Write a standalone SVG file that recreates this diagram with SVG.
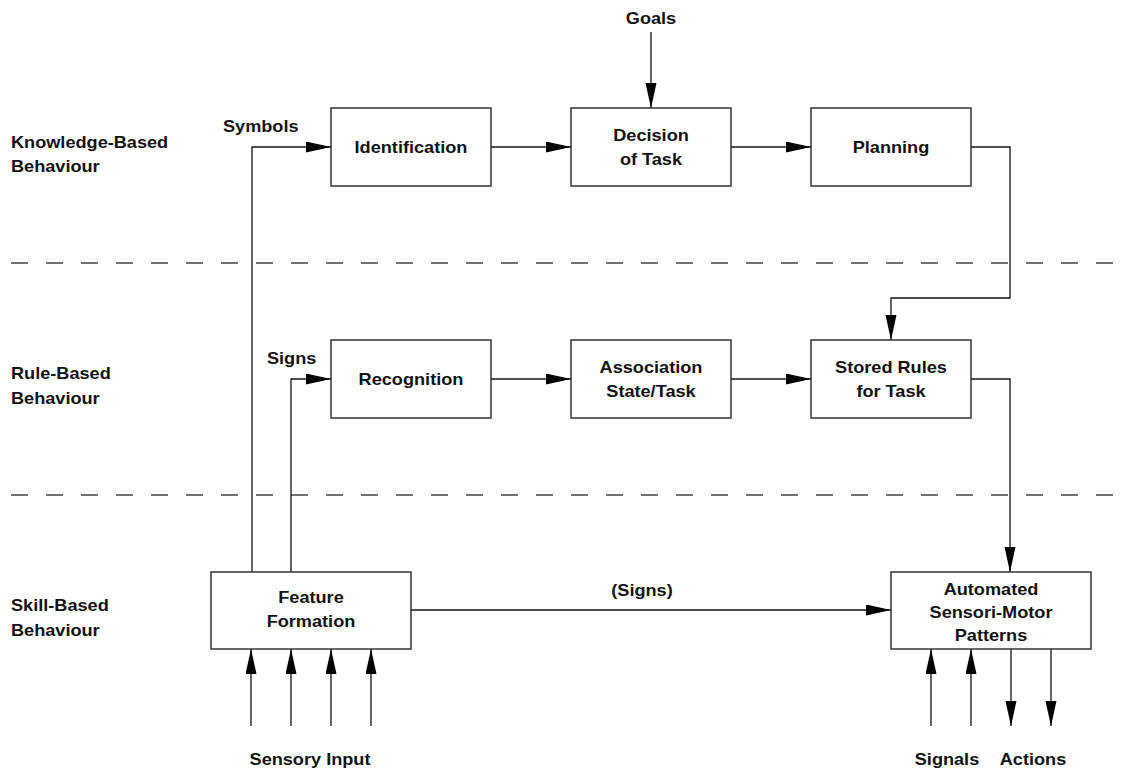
<svg xmlns="http://www.w3.org/2000/svg" width="1122" height="771" viewBox="0 0 1122 771">
<style>
text{font-family:"Liberation Sans",Arial,sans-serif;font-weight:bold;font-size:16.5px;fill:#111;transform-box:fill-box;transform-origin:center;transform:scaleX(1.1)}
.c{text-anchor:middle}
.l{transform-origin:left center}
.box{fill:#fff;stroke:#333;stroke-width:1.5}
.ln{fill:none;stroke:#111;stroke-width:1.3}
.dash{fill:none;stroke:#444;stroke-width:1.5;stroke-dasharray:17 18}
</style>
<defs>
<marker id="ah" markerUnits="userSpaceOnUse" markerWidth="26" markerHeight="12" refX="25" refY="5.5" orient="auto">
<path d="M0,0 L25,5.5 L0,11 z" fill="#000"/>
</marker>
</defs>
<g id="bands">
<line class="dash" x1="11" y1="263" x2="1122" y2="263"/>
<line class="dash" x1="11" y1="495" x2="1122" y2="495"/>
<text class="l" x="11" y="148">Knowledge-Based</text>
<text class="l" x="11" y="172">Behaviour</text>
<text class="l" x="11" y="379">Rule-Based</text>
<text class="l" x="11" y="404">Behaviour</text>
<text class="l" x="11" y="611">Skill-Based</text>
<text class="l" x="11" y="636">Behaviour</text>
</g>
<g id="connectors">
<path class="ln" d="M651,32 V108" marker-end="url(#ah)"/>
<path class="ln" d="M252,572 V147 H331" marker-end="url(#ah)"/>
<path class="ln" d="M491,147 H571" marker-end="url(#ah)"/>
<path class="ln" d="M731,147 H811" marker-end="url(#ah)"/>
<path class="ln" d="M971,147 H1010 V298 H891 V340" marker-end="url(#ah)"/>
<path class="ln" d="M291,572 V379 H331" marker-end="url(#ah)"/>
<path class="ln" d="M491,379 H571" marker-end="url(#ah)"/>
<path class="ln" d="M731,379 H811" marker-end="url(#ah)"/>
<path class="ln" d="M971,379 H1010 V572" marker-end="url(#ah)"/>
<path class="ln" d="M411,610 H891" marker-end="url(#ah)"/>
<path class="ln" d="M251,726 V649" marker-end="url(#ah)"/>
<path class="ln" d="M291,726 V649" marker-end="url(#ah)"/>
<path class="ln" d="M331,726 V649" marker-end="url(#ah)"/>
<path class="ln" d="M371,726 V649" marker-end="url(#ah)"/>
<path class="ln" d="M931,726 V649" marker-end="url(#ah)"/>
<path class="ln" d="M971,726 V649" marker-end="url(#ah)"/>
<path class="ln" d="M1011,649 V726" marker-end="url(#ah)"/>
<path class="ln" d="M1051,649 V726" marker-end="url(#ah)"/>
<text class="c" x="651" y="24">Goals</text>
<text class="l" x="223" y="132">Symbols</text>
<text class="l" x="267" y="364">Signs</text>
<text class="c" x="642" y="596">(Signs)</text>
<text class="c" x="310" y="765">Sensory Input</text>
<text class="c" x="947" y="765">Signals</text>
<text class="c" x="1033" y="765">Actions</text>
</g>
<g id="identification"><rect class="box" x="331" y="108" width="160" height="78"/><text class="c" x="411" y="153">Identification</text></g>
<g id="decision"><rect class="box" x="571" y="108" width="160" height="78"/><text class="c" x="651" y="141">Decision</text><text class="c" x="651" y="165">of Task</text></g>
<g id="planning"><rect class="box" x="811" y="108" width="160" height="78"/><text class="c" x="891" y="153">Planning</text></g>
<g id="recognition"><rect class="box" x="331" y="340" width="160" height="78"/><text class="c" x="411" y="385">Recognition</text></g>
<g id="association"><rect class="box" x="571" y="340" width="160" height="78"/><text class="c" x="651" y="373">Association</text><text class="c" x="651" y="397">State/Task</text></g>
<g id="storedrules"><rect class="box" x="811" y="340" width="160" height="78"/><text class="c" x="891" y="373">Stored Rules</text><text class="c" x="891" y="397">for Task</text></g>
<g id="feature"><rect class="box" x="211" y="572" width="200" height="77"/><text class="c" x="311" y="603">Feature</text><text class="c" x="311" y="627">Formation</text></g>
<g id="automated"><rect class="box" x="891" y="572" width="200" height="77"/><text class="c" x="991" y="595">Automated</text><text class="c" x="991" y="618">Sensori-Motor</text><text class="c" x="991" y="641">Patterns</text></g>
</svg>
